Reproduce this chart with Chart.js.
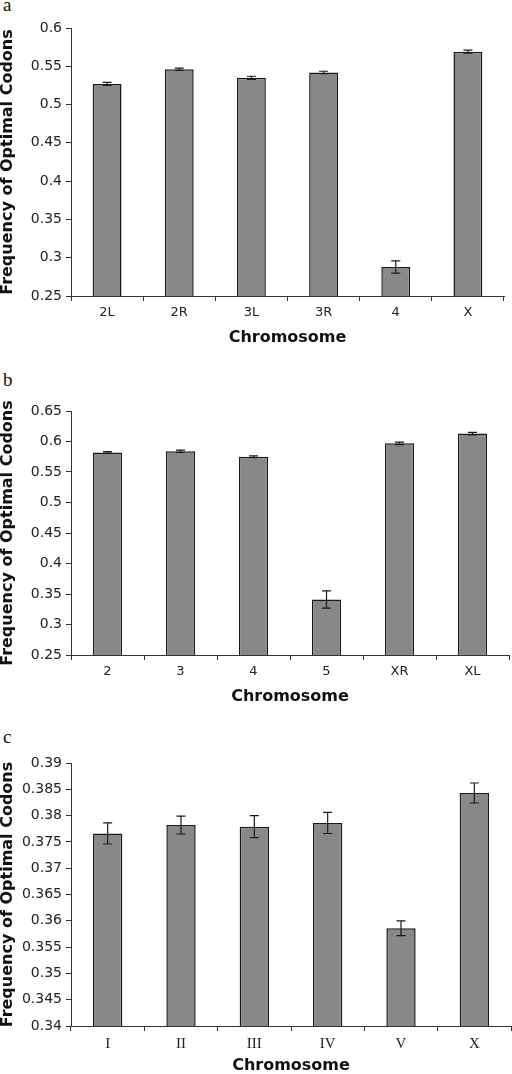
<!DOCTYPE html>
<html>
<head>
<meta charset="utf-8">
<script src="https://cdn.jsdelivr.net/npm/chart.js@4.4.0/dist/chart.umd.min.js"></script>
<style>
  body { margin: 0; background: #fff; width: 512px; height: 1074px; position: relative; overflow: hidden; }
  canvas { position: absolute; left: 0; }
  .panel { position: absolute; left: 3px; font-family: "Liberation Serif", serif; font-size: 19px; color: #111; }
</style>
</head>
<body>
<div class="panel" style="top:-6px">a</div>
<div class="panel" style="top:369px">b</div>
<div class="panel" style="top:726px">c</div>
<canvas id="chartA" width="512" height="346" style="top:0px"></canvas>
<canvas id="chartB" width="512" height="345" style="top:360px"></canvas>
<canvas id="chartC" width="512" height="360" style="top:714px"></canvas>
<script>
// panel a - Drosophila
const catsA = ['2L', '2R', '3L', '3R', '4', 'X'];
const valsA = [0.527, 0.546, 0.535, 0.542, 0.288, 0.569];
const errsA = [0.002, 0.0015, 0.002, 0.0015, 0.008, 0.002];

// panel b
const catsB = ['2', '3', '4', '5', 'XR', 'XL'];
const valsB = [0.582, 0.584, 0.575, 0.341, 0.597, 0.613];
const errsB = [0.0015, 0.002, 0.0015, 0.014, 0.002, 0.002];

// panel c - C. elegans
const catsC = ['I', 'II', 'III', 'IV', 'V', 'X'];
const valsC = [0.3766, 0.3782, 0.3779, 0.3786, 0.3586, 0.3843];
const errsC = [0.002, 0.0017, 0.0021, 0.002, 0.0014, 0.0019];

const yTitle = 'Frequency of Optimal Codons';
const xTitle = 'Chromosome';

// little plugin for the +/- error bars
const errorBars = {
  id: 'errorBars',
  afterDatasetsDraw(chart, args, opts) {
    const ctx = chart.ctx;
    const y = chart.scales.y;
    const ds = chart.data.datasets[0];
    ctx.save();
    ctx.strokeStyle = '#1a1a1a';
    ctx.lineWidth = 1.2;
    chart.getDatasetMeta(0).data.forEach((bar, i) => {
      const e = opts.errors[i];
      const top = y.getPixelForValue(ds.data[i] + e);
      const bot = y.getPixelForValue(ds.data[i] - e);
      ctx.beginPath();
      ctx.moveTo(bar.x, top); ctx.lineTo(bar.x, bot);
      ctx.moveTo(bar.x - 4.5, top); ctx.lineTo(bar.x + 4.5, top);
      ctx.moveTo(bar.x - 4.5, bot); ctx.lineTo(bar.x + 4.5, bot);
      ctx.stroke();
    });
    ctx.restore();
  }
};

function makeChart(id, cats, vals, errs, cfg) {
  return new Chart(document.getElementById(id), {
    type: 'bar',
    data: {
      labels: cats,
      datasets: [{
        data: vals,
        backgroundColor: '#888888',
        borderColor: '#1a1a1a',
        borderWidth: 1.5,
        barPercentage: 0.4,
        categoryPercentage: 1.0
      }]
    },
    plugins: [errorBars],
    options: {
      responsive: false,
      animation: false,
      layout: { padding: { top: cfg.top, right: cfg.right, left: 0, bottom: 0 } },
      plugins: {
        legend: { display: false },
        tooltip: { enabled: false },
        errorBars: { errors: errs }
      },
      scales: {
        x: {
          afterFit: s => { s.height = cfg.xh; },
          grid: { display: true, drawOnChartArea: false, tickLength: 5, color: '#333', offset: true },
          border: { color: '#333', width: 1 },
          ticks: { color: '#222', padding: 4, font: cfg.catFont },
          title: { display: true, text: xTitle, color: '#111', padding: 0,
                   font: { family: 'DejaVu Sans', size: 16, weight: 'bold', lineHeight: 1 } }
        },
        y: {
          min: cfg.min, max: cfg.max,
          afterFit: s => { s.width = 71; },
          grid: { display: true, drawOnChartArea: false, tickLength: 5, color: '#333' },
          border: { color: '#333', width: 1 },
          ticks: {
            stepSize: cfg.step, color: '#222', padding: 4,
            font: { family: 'DejaVu Sans', size: 14 },
            callback: v => String(parseFloat(v.toFixed(4)))
          },
          title: { display: true, text: yTitle, color: '#111', padding: 0,
                   font: { family: 'DejaVu Sans', size: 16, weight: 'bold', lineHeight: 1 } }
        }
      }
    }
  });
}

const sansCat = { family: 'DejaVu Sans', size: 13 };
makeChart('chartA', catsA, valsA, errsA, { min: 0.25, max: 0.6, step: 0.05, top: 28, right: 8, xh: 50, catFont: sansCat });
makeChart('chartB', catsB, valsB, errsB, { min: 0.25, max: 0.65, step: 0.05, top: 51, right: 3, xh: 50, catFont: sansCat });
makeChart('chartC', catsC, valsC, errsC, { min: 0.34, max: 0.39, step: 0.005, top: 49, right: 1, xh: 48,
  catFont: { family: 'Liberation Serif', size: 15 } });
</script>
</body>
</html>
